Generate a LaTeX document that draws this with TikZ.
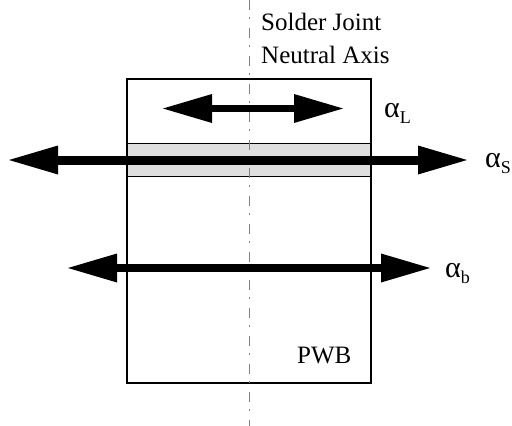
\documentclass[tikz,border=0pt]{standalone}
\usepackage{fontspec}
\setmainfont{Liberation Serif}
\usetikzlibrary{arrows.meta}
\newcommand{\alab}[1]{{\fontsize{30}{30}\selectfont α}\raisebox{-6pt}{\fontsize{18}{18}\selectfont #1}}

\begin{document}
\begin{tikzpicture}[x=1pt, y=-1pt,
    dbl/.style={{Triangle[length=49pt, width=29pt, line width=0pt]}-{Triangle[length=49pt, width=29pt, line width=0pt]}, line width=#1},
    board/.style={draw, line width=1.4pt, minimum width=244pt, minimum height=304pt,
                  anchor=north west, inner sep=0pt, outer sep=0pt},
    layer/.style={draw, fill=gray!25, line width=1.4pt, minimum width=244pt,
                  minimum height=33pt, anchor=north west, inner sep=0pt, outer sep=0pt},
    neutral/.style={draw=gray, line width=1pt, dash pattern=on 10pt off 7pt on 2pt off 9pt},
    lbl/.style={font=\fontsize{25}{32}\selectfont, inner sep=0pt, anchor=base west}
]
    \useasboundingbox (0,0) rectangle (512,426);

    % Board and solder layer
    \node[board] (pwb)  at (127,79) {};
    \node[layer] (band) at (127,143.5) {};

    % Neutral axis
    \coordinate (top) at (249,0);
    \coordinate (bot) at (249,426);
    \draw[neutral] (top) -- (bot);

    % Expansion arrows
    \coordinate (ll) at (163,108.5);
    \coordinate (lr) at (343,108.5);
    \coordinate (sl) at (9,160);
    \coordinate (sr) at (467,160);
    \coordinate (bl) at (68,268);
    \coordinate (br) at (430,268);
    \draw[dbl=7pt] (ll) -- (lr);
    \draw[dbl=9pt] (sl) -- (sr);
    \draw[dbl=8pt] (bl) -- (br);

    % Labels
    \node[lbl] (sj) at (261,30) {Solder Joint};
    \node[lbl] (na) at (261,63) {Neutral Axis};
    \node[lbl] (pw) at (297,363) {PWB};
    \node[lbl] (aL) at (384,117) {\alab{L}};
    \node[lbl] (aS) at (485,167) {\alab{S}};
    \node[lbl] (ab) at (445,277) {\alab{b}};
\end{tikzpicture}
\end{document}
